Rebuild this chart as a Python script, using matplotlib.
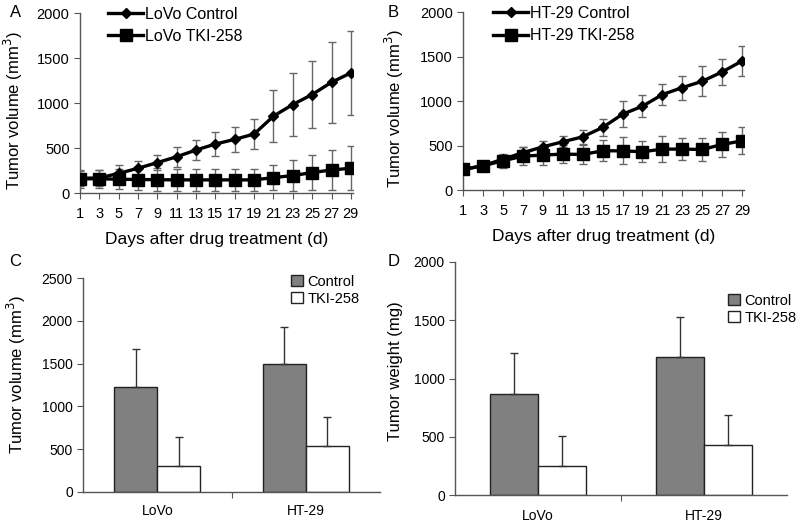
import numpy as np
import matplotlib
matplotlib.use("Agg")
from matplotlib import pyplot as plt

plt.rcParams['font.family'] = ['Liberation Sans', 'DejaVu Sans']

# --- data ---
days = [1, 3, 5, 7, 9, 11, 13, 15, 17, 19, 21, 23, 25, 27, 29]

lovo_ctrl = [165, 170, 220, 277, 340, 405, 480, 546, 598, 657, 856, 985, 1096, 1232, 1336]
lovo_ctrl_err = [80, 90, 90, 80, 85, 110, 110, 130, 140, 165, 290, 350, 375, 450, 470]
lovo_tki = [160, 160, 155, 152, 150, 148, 148, 148, 148, 148, 173, 196, 229, 258, 277]
lovo_tki_err = [100, 100, 110, 115, 125, 125, 120, 125, 125, 125, 140, 175, 190, 220, 245]

ht_ctrl = [232, 273, 348, 419, 486, 542, 598, 703, 852, 942, 1073, 1151, 1222, 1327, 1450]
ht_ctrl_err = [30, 40, 50, 60, 60, 60, 75, 95, 145, 125, 120, 135, 170, 150, 170]
ht_tki = [232, 273, 329, 381, 393, 404, 400, 441, 441, 430, 460, 460, 456, 512, 553]
ht_tki_err = [40, 50, 80, 100, 110, 100, 110, 120, 150, 120, 150, 125, 125, 140, 150]

groups = ['LoVo', 'HT-29']
vol_ctrl = [1230, 1492]
vol_ctrl_err = [440, 440]
vol_tki = [305, 539]
vol_tki_err = [340, 340]

wt_ctrl = [868, 1181]
wt_ctrl_err = [350, 348]
wt_tki = [250, 427]
wt_tki_err = [257, 256]

AXCOL = '#555555'

fig = plt.figure(figsize=(8, 5.25), dpi=100)


def style_axes(ax, size=10):
    for s in ['top', 'right']:
        ax.spines[s].set_visible(False)
    for s in ['left', 'bottom']:
        ax.spines[s].set_color(AXCOL)
        ax.spines[s].set_linewidth(1.0)
    ax.tick_params(colors=AXCOL, labelcolor='black', labelsize=size, length=4, direction='out')


def place_ylabel(ax, rect, px, frac):
    # px: distance (pixels) from the y axis to the label's right edge
    ax.yaxis.set_label_coords(-px / (rect[2] * 800), frac)


def line_panel(rect, ctrl, ctrl_err, tki, tki_err, name, letter, lx, leg_x, lab_px):
    ax = fig.add_axes(rect)
    ax.errorbar(days, ctrl, yerr=ctrl_err, color='black', lw=2.4, marker='D', ms=5,
                ecolor='#666666', elinewidth=1, capsize=3, label=name + ' Control', zorder=3)
    ax.errorbar(days, tki, yerr=tki_err, color='black', lw=2.4, marker='s', ms=8.5,
                ecolor='#666666', elinewidth=1, capsize=3, label=name + ' TKI-258', zorder=3)
    ax.set_xlim(1, 29.2)
    ax.set_ylim(0, 2000)
    ax.set_xticks(days)
    ax.set_yticks([0, 500, 1000, 1500, 2000])
    ax.set_xlabel('Days after drug treatment (d)', fontsize=12.5, labelpad=8)
    ax.set_ylabel('Tumor volume (mm$^3$)', fontsize=12)
    place_ylabel(ax, rect, lab_px, 0.46)
    style_axes(ax, 10.5)
    ax.tick_params(axis='x', pad=6)
    handles, labels = ax.get_legend_handles_labels()
    handles = [h[0] for h in handles]
    ax.legend(handles, labels, loc='upper left', bbox_to_anchor=(leg_x, 1.115), frameon=False,
              fontsize=11.5, handlelength=2.2, handletextpad=0.1, labelspacing=0.45)
    fig.text(lx, 0.977, letter, fontsize=12, va='center')
    return ax


line_panel([0.100, 0.632, 0.341, 0.343], lovo_ctrl, lovo_ctrl_err, lovo_tki, lovo_tki_err,
           'LoVo', 'A', 0.012, 0.05, 55)
line_panel([0.579, 0.638, 0.351, 0.339], ht_ctrl, ht_ctrl_err, ht_tki, ht_tki_err,
           'HT-29', 'B', 0.484, 0.055, 57)


def bar_panel(rect, ctrl, ctrl_err, tki, tki_err, ymax, ylabel, label_y, lab_px,
              letter, lx, leg_anchor):
    ax = fig.add_axes(rect)
    x = np.arange(len(groups))
    w = 0.29
    ax.bar(x - w / 2, ctrl, w, color='#808080', edgecolor='#222222', lw=1, label='Control')
    ax.bar(x + w / 2, tki, w, color='white', edgecolor='#222222', lw=1, label='TKI-258')
    ax.errorbar(x - w / 2, ctrl, yerr=[np.zeros(len(ctrl)), ctrl_err], fmt='none',
                ecolor='#333333', elinewidth=1, capsize=3)
    ax.errorbar(x + w / 2, tki, yerr=[np.zeros(len(tki)), tki_err], fmt='none',
                ecolor='#333333', elinewidth=1, capsize=3)
    ax.set_xlim(-0.5, 1.5)
    ax.set_ylim(0, ymax)
    ax.set_yticks(np.arange(0, ymax + 1, 500))
    ax.set_xticks([0.5])
    ax.set_xticklabels([''])
    ax.set_ylabel(ylabel, fontsize=12)
    place_ylabel(ax, rect, lab_px, label_y)
    style_axes(ax)
    for xi, g in zip(x, groups):
        ax.text(xi, -0.09, g, transform=ax.get_xaxis_transform(), ha='center', va='center',
                fontsize=10)
    ax.legend(loc='upper right', bbox_to_anchor=leg_anchor, frameon=False, fontsize=10.5,
              handlelength=0.8, handleheight=0.8, handletextpad=0.3, labelspacing=0.2)
    fig.text(lx, 0.501, letter, fontsize=12, va='center')
    return ax


bar_panel([0.104, 0.063, 0.371, 0.407], vol_ctrl, vol_ctrl_err, vol_tki, vol_tki_err, 2500,
          'Tumor volume (mm$^3$)', 0.55, 55, 'C', 0.012, (0.975, 1.077))
bar_panel([0.569, 0.057, 0.415, 0.444], wt_ctrl, wt_ctrl_err, wt_tki, wt_tki_err, 2000,
          'Tumor weight (mg)', 0.53, 52, 'D', 0.484, (1.067, 0.92))

fig.savefig('out.png', dpi=100)
